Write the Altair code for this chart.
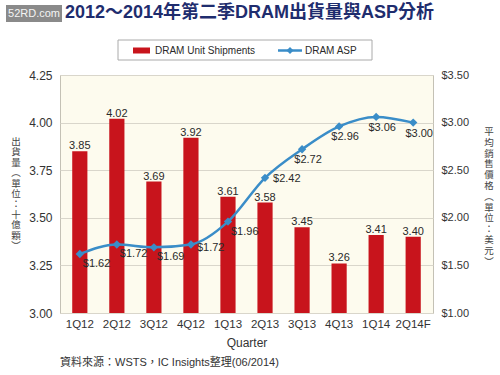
import altair as alt
import pandas as pd

quarters = ["1Q12", "2Q12", "3Q12", "4Q12", "1Q13", "2Q13", "3Q13", "4Q13", "1Q14", "2Q14F"]
shipments = [3.85, 4.02, 3.69, 3.92, 3.61, 3.58, 3.45, 3.26, 3.41, 3.40]
asp = [1.62, 1.72, 1.69, 1.72, 1.96, 2.42, 2.72, 2.96, 3.06, 3.00]
left_ticks = [3.00, 3.25, 3.50, 3.75, 4.00, 4.25]
right_ticks = [1.00, 1.50, 2.00, 2.50, 3.00, 3.50]

title_text = "2012～2014年第二季DRAM出貨量與ASP分析"
left_title = ["出", "貨", "量", "︵", "單", "位", "：", "十", "億", "顆", "︶"]
right_title = ["平", "均", "銷", "售", "價", "格", "︵", "單", "位", "：", "美", "元", "︶"]
source_text = "資料來源：WSTS，IC Insights整理(06/2014)"
legend_names = ["DRAM Unit Shipments", "DRAM ASP"]

df = pd.DataFrame({"quarter": quarters, "shipments": shipments, "asp": asp})
one = pd.DataFrame({"a": [0]})

FONT = "Liberation Sans, Arial, Noto Sans CJK TC"
CJK = "Noto Sans CJK TC, Liberation Sans"
RED = "#C8141C"
BLUE = "#3A8DC8"
TXT = "#2a2a2a"
W, H = 373, 238

x = alt.X(
    "quarter:N", sort=quarters,
    scale=alt.Scale(paddingInner=0.59, paddingOuter=0.33),
    axis=alt.Axis(title="Quarter", labelAngle=0, ticks=False, domain=False,
                  labelPadding=5, labelFontSize=11.5, titleFontSize=12,
                  titleFontWeight="normal", titlePadding=8, labelColor="#333",
                  titleColor="#333", labelFont=FONT, titleFont=FONT),
)

y_left = alt.Y(
    "shipments:Q",
    scale=alt.Scale(domain=[3, 4.25], zero=False, nice=False),
    axis=alt.Axis(values=left_ticks, format=".2f", title=None, labelFontSize=12,
                  labelPadding=8, ticks=False, domain=False, grid=True,
                  gridColor="#D9D6CB", labelColor="#333", labelFont=FONT),
)

y_right = alt.Y(
    "asp:Q",
    scale=alt.Scale(domain=[1, 3.5], zero=False, nice=False),
    axis=alt.Axis(orient="right", values=right_ticks, format="$.2f", title=None,
                  labelFontSize=11, labelPadding=8, ticks=False, domain=False,
                  grid=False, labelColor="#333", labelFont=FONT),
)

bars = alt.Chart(df).mark_bar(color=RED).encode(x=x, y=y_left, y2=alt.datum(3))
bar_labels = alt.Chart(df).mark_text(
    baseline="alphabetic", dy=-2, fontSize=11, font=FONT, color=TXT
).encode(x=x, y=alt.Y("shipments:Q"), text=alt.Text("shipments:Q", format=".2f"))

left_layer = alt.layer(bars, bar_labels)

line = alt.Chart(df).mark_line(color=BLUE, strokeWidth=2.5, interpolate="monotone").encode(
    x=x, y=y_right)
pts = alt.Chart(df).mark_point(shape="diamond", filled=True, size=70, color=BLUE, opacity=1).encode(
    x=x, y=alt.Y("asp:Q"))


def asp_text(group, align, dx, dy):
    return alt.Chart(df).transform_filter(
        alt.FieldOneOfPredicate(field="quarter", oneOf=group)
    ).mark_text(align=align, baseline="middle", dx=dx, dy=dy, fontSize=11, font=FONT,
                color=TXT).encode(x=x, y=alt.Y("asp:Q"),
                                  text=alt.Text("asp:Q", format="$.2f"))


right_layer = alt.layer(
    line, pts,
    asp_text(["1Q12", "2Q12", "3Q12", "1Q13"], "left", 3, 10),
    asp_text(["4Q12"], "left", 6, 4),
    asp_text(["2Q13"], "left", 8, 1),
    asp_text(["3Q13", "4Q13", "1Q14", "2Q14F"], "center", 6, 11),
)

# decorations: title, logo, legend, axis titles, source
base = alt.Chart(one)
logo_box = base.mark_rect(color="#8a8a8a").encode(
    x=alt.value(-54), x2=alt.value(2), y=alt.value(-70), y2=alt.value(-53))
logo_txt = base.mark_text(text="52RD.com", color="#f4f4f4", fontSize=11, font=FONT,
                          baseline="middle", align="center").encode(
    x=alt.value(-26), y=alt.value(-61.5))
title = base.mark_text(text=title_text, color="#1F2D6E", fontSize=18, fontWeight="bold",
                       font=FONT, align="left", baseline="middle").encode(
    x=alt.value(5), y=alt.value(-62))
leg_box = base.mark_rect(fill="white", stroke="#aaaaaa", strokeWidth=1).encode(
    x=alt.value(58), x2=alt.value(312), y=alt.value(-35), y2=alt.value(-15))
leg_red = base.mark_rect(color=RED).encode(
    x=alt.value(73), x2=alt.value(90), y=alt.value(-27.5), y2=alt.value(-21.5))
leg_red_t = base.mark_text(text=legend_names[0], fontSize=10, font=FONT, color=TXT,
                           align="left", baseline="middle").encode(
    x=alt.value(95), y=alt.value(-24.5))
leg_line = base.mark_rule(color=BLUE, strokeWidth=2.5).encode(
    x=alt.value(218), x2=alt.value(242), y=alt.value(-24.5))
leg_pt = base.mark_point(shape="diamond", filled=True, size=50, color=BLUE, opacity=1).encode(
    x=alt.value(230), y=alt.value(-24.5))
leg_blue_t = base.mark_text(text=legend_names[1], fontSize=10, font=FONT, color=TXT,
                            align="left", baseline="middle").encode(
    x=alt.value(245), y=alt.value(-24.5))
ltitle = base.mark_text(text="\n".join(left_title), lineBreak="\n", lineHeight=10.4,
                        fontSize=9.5, font=CJK, color="#444", align="center",
                        baseline="top").encode(x=alt.value(-44), y=alt.value(62))
rtitle = base.mark_text(text="\n".join(right_title), lineBreak="\n", lineHeight=10.8,
                        fontSize=9.5, font=CJK, color="#444", align="center",
                        baseline="top").encode(x=alt.value(429), y=alt.value(52))
source = base.mark_text(text=source_text, fontSize=11, font=FONT, color="#333",
                        align="left", baseline="middle").encode(
    x=alt.value(0), y=alt.value(288))

chart = alt.layer(
    left_layer, right_layer,
    logo_box, logo_txt, title, leg_box, leg_red, leg_red_t, leg_line, leg_pt, leg_blue_t,
    ltitle, rtitle, source,
).resolve_scale(y="independent").properties(
    width=W, height=H,
    autosize=alt.AutoSizeParams(type="none"),
    padding={"left": 60, "top": 75, "right": 67, "bottom": 62},
    background="white",
).configure_view(fill="#FDFBEE", stroke="#C4C1B5")

chart.save("out.html", embed_options={"renderer": "svg", "actions": False})
